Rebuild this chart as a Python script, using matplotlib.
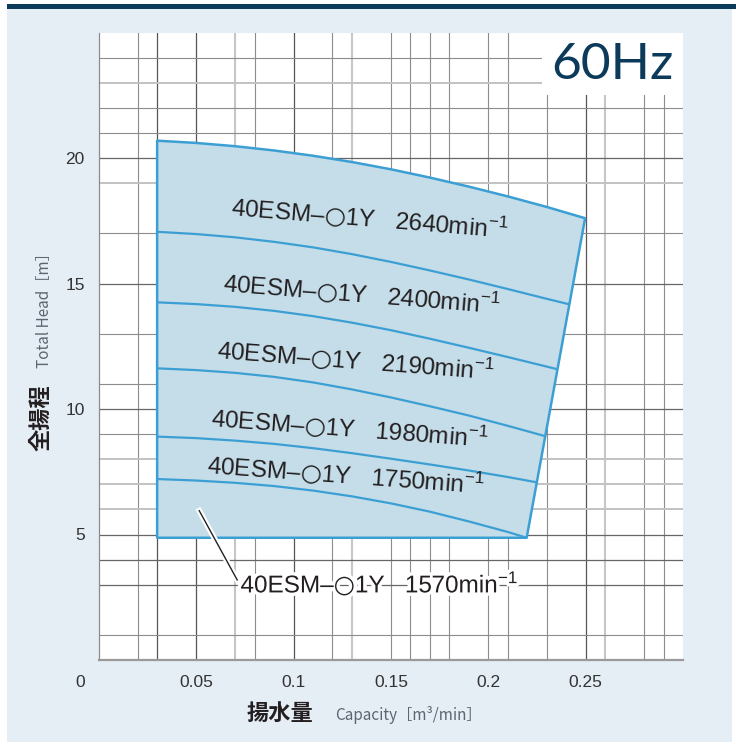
import matplotlib
matplotlib.use("Agg")
import matplotlib.pyplot as plt
import matplotlib.patheffects as pe
from matplotlib.patches import Rectangle

plt.rcParams["mathtext.fontset"] = "custom"
plt.rcParams["mathtext.rm"] = "Liberation Sans"
plt.rcParams["mathtext.sf"] = "DejaVu Sans"

# ---------------- data ----------------
q_top = [0.03, 0.05, 0.07, 0.09, 0.11, 0.13, 0.15, 0.17, 0.19, 0.21, 0.23, 0.2497]
h_top = [20.69, 20.60, 20.47, 20.30, 20.09, 19.84, 19.55, 19.22, 18.86, 18.47, 18.05, 17.60]

q_2400 = [0.03, 0.05, 0.07, 0.09, 0.11, 0.13, 0.15, 0.17, 0.19, 0.21, 0.23, 0.2416]
h_2400 = [17.06, 16.97, 16.84, 16.66, 16.44, 16.17, 15.86, 15.52, 15.16, 14.78, 14.39, 14.17]

q_2190 = [0.03, 0.05, 0.07, 0.09, 0.11, 0.13, 0.15, 0.17, 0.19, 0.21, 0.23, 0.2351]
h_2190 = [14.25, 14.18, 14.07, 13.91, 13.70, 13.44, 13.14, 12.80, 12.44, 12.07, 11.69, 11.59]

q_1980 = [0.03, 0.05, 0.07, 0.09, 0.11, 0.13, 0.15, 0.17, 0.19, 0.21, 0.2291]
h_1980 = [11.62, 11.55, 11.44, 11.28, 11.06, 10.78, 10.46, 10.11, 9.74, 9.33, 8.92]

q_1750 = [0.03, 0.05, 0.07, 0.09, 0.11, 0.13, 0.15, 0.17, 0.19, 0.21, 0.2248]
h_1750 = [8.90, 8.84, 8.74, 8.61, 8.44, 8.24, 8.02, 7.79, 7.55, 7.29, 7.08]

q_1570 = [0.03, 0.05, 0.07, 0.09, 0.11, 0.13, 0.15, 0.17, 0.19, 0.21, 0.2197]
h_1570 = [7.21, 7.15, 7.06, 6.93, 6.75, 6.52, 6.24, 5.91, 5.52, 5.10, 4.87]

h_bottom = 4.87

speeds = ["2640", "2400", "2190", "1980", "1750", "1570"]
model = "40ESM\u2013$\\mathsf{\u25CB}$1Y"
unit = "min$^{\\mathrm{-1}}$"
label_q = [0.139, 0.135, 0.132, 0.129, 0.127, 0.144]
label_h = [17.60, 14.60, 11.95, 9.23, 7.37, 3.06]
label_rot = [-4.7, -4.6, -4.4, -4.3, -4.2, 0.0]
leader_q = [0.0516, 0.0711]
leader_h = [5.95, 3.19]

xtick_vals = [0.05, 0.10, 0.15, 0.20, 0.25]
xtick_labels = ["0.05", "0.1", "0.15", "0.2", "0.25"]
ytick_vals = [5, 10, 15, 20]
ytick_labels = ["5", "10", "15", "20"]

vgrid_dark = [0.03, 0.05, 0.10, 0.25]
vgrid_mid = [0.02, 0.08, 0.12, 0.15, 0.16, 0.17, 0.18, 0.20, 0.21, 0.23, 0.28, 0.29]
vgrid_light = [0.07, 0.13, 0.26]
hgrid_dark = [3, 4, 5, 10, 15, 20]
hgrid_mid = [1, 9, 11, 13, 17, 21, 22, 24]
hgrid_light = [6, 7, 8, 19, 23]

# ---------------- style ----------------
fill_col = "#c4dde9"
edge_col = "#3c9fd4"
txt_col = "#231f20"
panel_col = "#e5edf5"
navy = "#0c3a5a"
lab_fam = ["Liberation Sans", "DejaVu Sans"]
cjk_fam = ["Noto Sans CJK JP", "DejaVu Sans"]
narrow_fam = ["Noto Sans CJK JP", "DejaVu Sans"]

W, H = 736, 750
fig = plt.figure(figsize=(W / 100, H / 100), dpi=100, facecolor="white")

# background panel and top bar
fig.patches.append(Rectangle((6.6 / W, 8 / H), (732 - 6.6) / W, (742 - 8) / H,
                             transform=fig.transFigure, facecolor=panel_col,
                             edgecolor="none", zorder=-5))
fig.patches.append(Rectangle((6.6 / W, (750 - 8.5) / H), (736 - 6.6) / W, 4.5 / H,
                             transform=fig.transFigure, facecolor=navy,
                             edgecolor="none", zorder=-5))

ax = fig.add_axes([98.7 / W, 90 / H, 584.4 / W, 627.5 / H])
ax.set_zorder(1)
ax.set_facecolor("white")
ax.set_xlim(0, 0.3)
ax.set_ylim(0, 25)

# grid
for v in vgrid_mid:
    ax.axvline(v, color="#8c8c8c", lw=0.8, zorder=1)
for v in vgrid_dark:
    ax.axvline(v, color="#555555", lw=0.9, zorder=1)
for v in vgrid_light:
    ax.axvline(v, color="#c6c6c6", lw=1.5, zorder=1)
for v in hgrid_mid:
    ax.axhline(v, color="#8c8c8c", lw=0.8, zorder=1)
for v in hgrid_dark:
    ax.axhline(v, color="#666666", lw=0.9, zorder=1)
for v in hgrid_light:
    ax.axhline(v, color="#c2c2c2", lw=1.4, zorder=1)

# 60Hz box
ax.add_patch(Rectangle((0.2274, 22.5), 0.3 - 0.2274, 2.5, facecolor="white",
                       edgecolor="none", zorder=2))
ax.text(0.2637, 23.72, "60Hz", fontsize=37, family=["Lato", "DejaVu Sans"],
        color=navy, ha="center", va="center", zorder=3)

# operating region polygon
poly_q = list(q_top) + [q_1570[-1], q_top[0]]
poly_h = list(h_top) + [h_bottom, h_bottom]
ax.fill(poly_q, poly_h, facecolor=fill_col, edgecolor=edge_col, lw=1.8,
        zorder=4, joinstyle="round")

for qs, hs in [(q_2400, h_2400), (q_2190, h_2190), (q_1980, h_1980),
               (q_1750, h_1750), (q_1570, h_1570)]:
    ax.plot(qs, hs, color=edge_col, lw=1.6, zorder=5, solid_capstyle="butt",
            solid_joinstyle="round")

# labels
for i, sp in enumerate(speeds):
    s = model + "   " + sp + unit
    t = ax.text(label_q[i], label_h[i], s, fontsize=17.5, family=lab_fam,
                color=txt_col, ha="center", va="center", rotation=label_rot[i],
                rotation_mode="anchor", zorder=7)
    if i == len(speeds) - 1:
        t.set_path_effects([pe.withStroke(linewidth=5, foreground="white")])

ax.plot(leader_q, leader_h, color="#222222", lw=1.0, zorder=6,
        path_effects=[pe.Stroke(linewidth=4, foreground="white"), pe.Normal()])

# axes styling
for side in ["top", "right"]:
    ax.spines[side].set_visible(False)
ax.spines["left"].set_color("#8c8c8c")
ax.spines["left"].set_linewidth(0.9)
ax.spines["bottom"].set_color("#9a9a9a")
ax.spines["bottom"].set_linewidth(1.6)

ax.set_xticks(xtick_vals)
ax.set_xticklabels(xtick_labels)
ax.set_yticks(ytick_vals)
ax.set_yticklabels(ytick_labels)
ax.tick_params(axis="x", length=0, pad=11, labelsize=12.5, colors="#333333")
ax.tick_params(axis="y", length=0, pad=10, labelsize=12.5, colors="#333333")
for lab in ax.get_xticklabels() + ax.get_yticklabels():
    lab.set_family(lab_fam)

ax.text(-0.0096, -0.9, "0", fontsize=12.5, family=lab_fam, color="#333333",
        ha="center", va="center", clip_on=False)

# axis titles (figure pixel coords)
def fx(px):
    return px / W

def fy(py):
    return 1 - py / H

fig.text(fx(41), fy(418), "全揚程", fontsize=16, family=cjk_fam, weight="bold",
         color=txt_col, rotation=90, ha="center", va="center")
fig.text(fx(45), fy(307), "Total Head［m］", fontsize=11, family=narrow_fam,
         color="#5b6670", rotation=90, ha="center", va="center")
fig.text(fx(280), fy(713), "揚水量", fontsize=16, family=cjk_fam, weight="bold",
         color=txt_col, ha="center", va="center")
fig.text(fx(408), fy(715), "Capacity［m³/min］", fontsize=11, family=narrow_fam,
         color="#5b6670", ha="center", va="center")

fig.savefig("out.png", dpi=100, facecolor="white")
